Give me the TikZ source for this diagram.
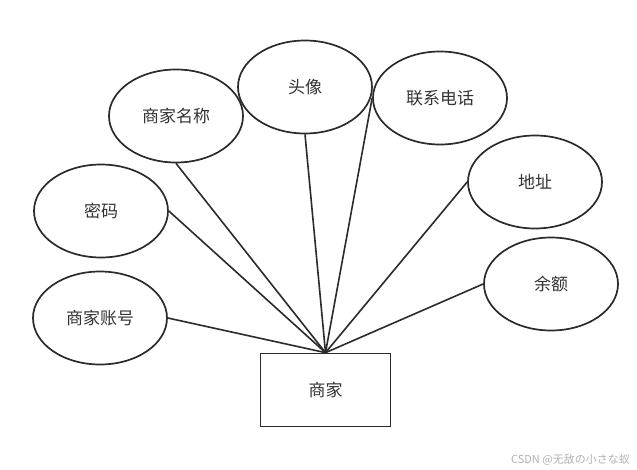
\documentclass[tikz,border=0pt]{standalone}
\usepackage{fontspec}
\setmainfont{Noto Sans CJK SC}
\newfontfamily\cjk{Noto Sans CJK SC}
\usetikzlibrary{shapes.geometric}
\definecolor{ink}{HTML}{2B2B2B}
\definecolor{txt}{HTML}{333333}
\tikzset{
  attr/.style={ellipse, draw=ink, line width=1.7pt, minimum width=134pt, minimum height=93pt, inner sep=0pt, font=\cjk\fontsize{17}{19}\selectfont, text=txt},
  entity/.style={rectangle, draw=ink, line width=1.7pt, minimum width=130pt, minimum height=73pt, inner sep=0pt, font=\cjk\fontsize{17}{19}\selectfont, text=txt},
  link/.style={draw=ink, line width=1.6pt}
}
\begin{document}
\begin{tikzpicture}[x=1pt,y=-1pt]
\useasboundingbox (0,0) rectangle (637,469);
\fill[white] (0,0) rectangle (637,469);
\node[attr] (name) at (176,116) {商家名称};
\node[attr] (avatar) at (305,87) {头像};
\node[attr] (phone) at (440,98) {联系电话};
\node[attr] (pwd) at (101,211) {密码};
\node[attr] (addr) at (535,182) {地址};
\node[attr] (acct) at (100,318) {商家账号};
\node[attr] (bal) at (551,284) {余额};
\node[entity] (shop) at (325.5,390) {商家};
\draw[link] (name.south) -- (shop.north);
\draw[link] (avatar.south) -- (shop.north);
\draw[link] (phone.west) -- (shop.north);
\draw[link] (pwd.east) -- (shop.north);
\draw[link] (acct.east) -- (shop.north);
\draw[link] (addr.west) -- (shop.north);
\draw[link] (bal.west) -- (shop.north);
\node[anchor=east, inner sep=0pt, font=\cjk\fontsize{11}{12}\selectfont, text=black!30] (wm) at (630,460) {CSDN @无敌の小さな蚁};
\end{tikzpicture}
\end{document}
